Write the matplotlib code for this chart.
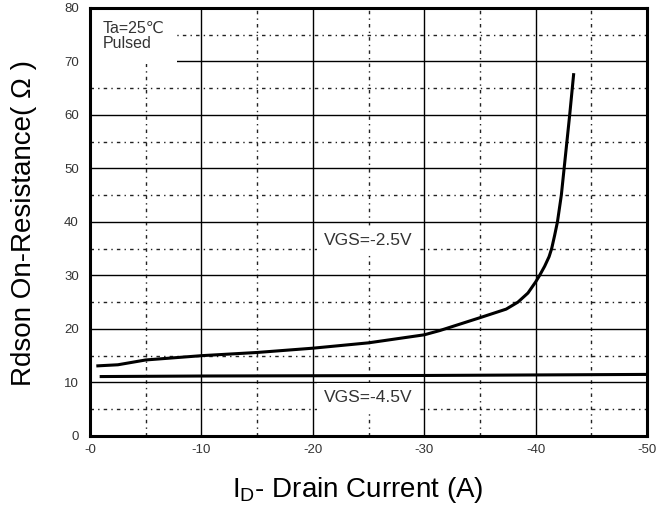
# -*- coding:utf-8 -*-

import matplotlib
matplotlib.use("Agg")
import matplotlib.pyplot as plt

plt.rcParams['font.family'] = ['Liberation Sans', 'DejaVu Sans']

# drain current (A) and on-resistance (ohm)
id_25 = [-0.7, -2.5, -5, -10, -15, -20, -25, -30, -31.4, -35, -37.35, -38.4,
         -39.3, -40.0, -40.35, -40.8, -41.2, -41.43, -41.7, -41.95, -42.3,
         -42.55, -42.8, -43.05, -43.4]
rds_25 = [13.1, 13.3, 14.2, 15.0, 15.6, 16.4, 17.4, 18.9, 19.7, 22.1, 23.7,
          25.0, 26.7, 28.8, 30.0, 31.7, 33.5, 35.0, 37.5, 40.0, 45.0, 50.0,
          55.0, 60.0, 67.5]

id_45 = [-1.0, -10, -20, -30, -40, -50]
rds_45 = [11.1, 11.2, 11.25, 11.3, 11.4, 11.5]

xticks = [0, -10, -20, -30, -40, -50]
xticklabels = ['-0', '-10', '-20', '-30', '-40', '-50']
yticks = [0, 10, 20, 30, 40, 50, 60, 70, 80]
minor_x = [-5, -15, -25, -35, -45]
minor_y = [5, 15, 25, 35, 45, 55, 65, 75]

fig = plt.figure(figsize=(6.72, 5.19), dpi=100)
ax = fig.add_axes([0.134, 0.160, 0.829, 0.825])

ax.set_xlim(0, -50)
ax.set_ylim(0, 80)
ax.set_xticks(xticks)
ax.set_xticklabels(xticklabels)
ax.set_yticks(yticks)
ax.set_xticks(minor_x, minor=True)
ax.set_yticks(minor_y, minor=True)
ax.tick_params(which='both', length=0, labelsize=9.5, labelcolor='#333333')
ax.tick_params(axis='x', pad=6)
ax.tick_params(axis='y', pad=8)

ax.grid(which='major', color='black', linewidth=1.0, zorder=1)
ax.grid(which='minor', color='#222222', linewidth=1.0,
        linestyle=(0, (2.5, 3, 1, 3)), zorder=1)
ax.set_axisbelow(True)

for s in ax.spines.values():
    s.set_linewidth(2.2)
    s.set_zorder(6)

ax.plot(id_25, rds_25, color='black', linewidth=2.2, zorder=5)
ax.plot(id_45, rds_45, color='black', linewidth=2.2, zorder=5)

ax.text(0.50, 0.457, 'VGS=-2.5V', transform=ax.transAxes, fontsize=12.5,
        color='#333333', ha='center', va='center',
        bbox=dict(facecolor='white', edgecolor='none', pad=5), zorder=3)
ax.text(0.50, 0.089, 'VGS=-4.5V', transform=ax.transAxes, fontsize=12.5,
        color='#333333', ha='center', va='center',
        bbox=dict(facecolor='white', edgecolor='none', pad=5), zorder=3)
ax.text(0.023, 0.97, 'Ta=25\u2103\nPulsed', transform=ax.transAxes,
        fontsize=11.5, color='#333333', ha='left', va='top', linespacing=1.05,
        bbox=dict(facecolor='white', edgecolor='none', pad=9), zorder=3)

fig.text(0.035, 0.570, 'Rdson On-Resistance( \u03a9 )', rotation=90,
         fontsize=20, ha='center', va='center')
fig.text(0.533, 0.056, r'I$_\mathregular{D}$- Drain Current (A)',
         fontsize=20, ha='center', va='center')

fig.savefig('out.png', dpi=100)
